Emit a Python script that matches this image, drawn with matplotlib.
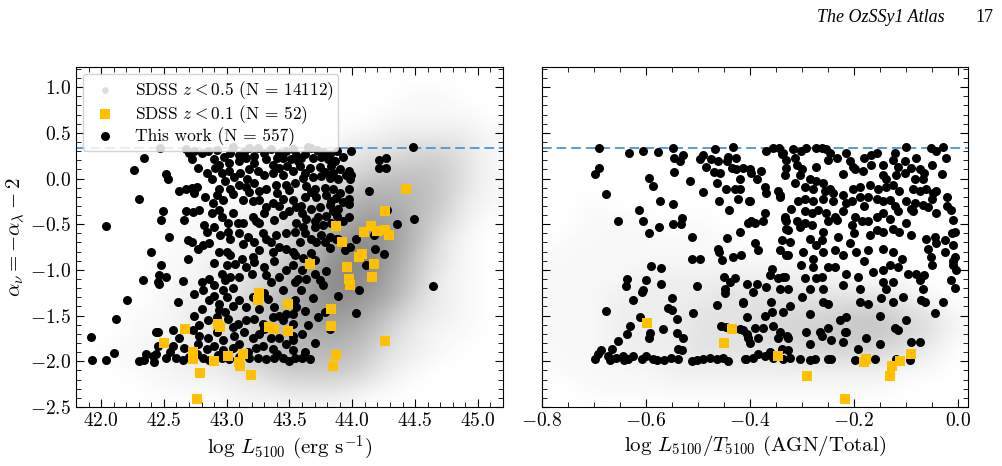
import numpy as np
import matplotlib
matplotlib.use("Agg")
import matplotlib.pyplot as plt
from matplotlib.colors import LinearSegmentedColormap, PowerNorm
from matplotlib.ticker import MultipleLocator

plt.rcParams['font.family'] = 'serif'
plt.rcParams['font.serif'] = ['cmr10']
plt.rcParams['mathtext.fontset'] = 'cm'
plt.rcParams['axes.formatter.use_mathtext'] = True

# ---- black points: this work, left panel (log L5100, alpha_nu)
work_left = [
    (42.47,0.33),(42.68,0.32),(42.70,0.28),(42.74,0.30),(42.80,0.28),(43.05,0.34),(43.03,0.28),(43.10,0.26),
    (43.18,0.33),(43.25,0.33),(43.30,0.28),(43.35,0.32),(43.42,0.28),(43.47,0.30),(43.53,0.32),(43.55,0.26),
    (42.34,0.22),(42.72,0.21),(42.90,0.21),(42.94,0.15),(43.02,0.17),(43.10,0.19),(43.15,0.22),(43.22,0.17),
    (43.31,0.21),(43.37,0.15),(43.45,0.22),(43.51,0.21),(43.57,0.19),
    (42.52,0.05),(42.53,0.00),(42.77,0.12),(42.84,0.06),(42.91,0.11),(42.96,0.06),(43.02,0.08),(43.11,0.06),
    (43.18,0.10),(43.25,0.08),(43.30,0.04),(43.37,0.06),(43.45,0.04),(43.53,0.08),
    (42.62,-0.14),(42.68,-0.11),(42.72,-0.10),(42.76,-0.09),(42.74,-0.16),(42.94,-0.11),(42.99,-0.03),(43.03,-0.11),
    (43.10,-0.07),(43.15,-0.09),(43.22,-0.05),(43.26,-0.14),(43.31,-0.11),(43.39,-0.07),(43.47,-0.07),(43.54,-0.05),
    (42.30,-0.22),(42.89,-0.27),(42.92,-0.18),(42.97,-0.23),(43.13,-0.23),(43.21,-0.25),(43.26,-0.23),(43.31,-0.31),
    (43.37,-0.27),(43.45,-0.22),(43.53,-0.23),(43.55,-0.31),
    (42.49,-0.35),(42.48,-0.45),(42.68,-0.36),(42.66,-0.45),(42.73,-0.37),(42.78,-0.34),(42.88,-0.38),(42.94,-0.34),
    (43.01,-0.49),(43.09,-0.49),(43.13,-0.49),(43.21,-0.42),(43.23,-0.47),(43.26,-0.49),(43.38,-0.45),(43.45,-0.40),
    (43.50,-0.36),(43.55,-0.49),
    (42.54,-0.64),(42.82,-0.51),(42.84,-0.58),(42.90,-0.53),(43.01,-0.58),(43.03,-0.66),(43.10,-0.60),(43.17,-0.64),
    (43.29,-0.60),(43.31,-0.66),(43.39,-0.62),(43.47,-0.60),(43.54,-0.58),(43.58,-0.69),
    (42.40,-0.80),(42.69,-0.67),(42.72,-0.69),(42.77,-0.77),(42.81,-0.73),(42.86,-0.71),(42.94,-0.80),(43.00,-0.80),
    (43.03,-0.84),(43.21,-0.86),(43.26,-0.78),(43.37,-0.80),(43.42,-0.75),(43.47,-0.77),(43.54,-0.84),
    (43.65,0.34),(43.67,0.33),(43.77,0.29),(43.82,0.27),(43.99,0.30),(44.48,0.34),
    (43.59,0.22),(43.69,0.22),(43.75,0.24),(43.81,0.21),(43.86,0.19),(44.21,0.20),(44.27,0.22),
    (43.58,0.14),(43.66,0.12),(43.74,0.13),(43.83,0.14),(43.90,0.10),(43.97,0.08),(43.99,0.04),(44.21,0.11),(44.27,0.11),
    (43.61,0.01),(43.69,0.02),(43.75,0.03),(43.82,0.01),(43.89,-0.01),(43.95,0.04),(43.98,0.00),
    (43.63,-0.08),(43.70,-0.11),(43.78,-0.10),(43.85,-0.12),(43.90,-0.16),(43.97,-0.12),(44.13,-0.14),
    (43.62,-0.20),(43.71,-0.20),(43.79,-0.18),(43.87,-0.21),(43.97,-0.22),
    (43.59,-0.30),(43.67,-0.33),(43.74,-0.31),(43.82,-0.29),(43.89,-0.33),(43.97,-0.28),(44.28,-0.34),
    (43.63,-0.44),(43.73,-0.42),(43.79,-0.41),(43.88,-0.41),(43.97,-0.42),(44.49,-0.44),
    (43.61,-0.53),(43.70,-0.53),(43.77,-0.51),(43.83,-0.49),(43.89,-0.66),(44.03,-0.66),(44.36,-0.50),
    (43.67,-0.66),(43.75,-0.62),(43.82,-0.64),
    (42.33,-1.11),(42.45,-1.13),(42.46,-1.06),(42.48,-0.95),(42.52,-1.08),(42.65,-1.12),(42.69,-0.88),(42.80,-1.13),
    (42.81,-1.22),(42.86,-1.10),(42.90,-1.17),(42.96,-1.04),(42.99,-1.11),(43.03,-1.08),(43.05,-1.20),(42.97,-1.22),
    (43.10,-1.08),(43.07,-0.93),(43.15,-0.97),(43.20,-1.04),(43.22,-0.91),(43.30,-0.97),(43.31,-1.06),(43.35,-1.13),
    (43.42,-1.08),(43.47,-1.00),(43.53,-0.95),(43.57,-1.10),
    (42.61,-1.35),(42.74,-1.26),(42.80,-1.43),(42.86,-1.33),(42.94,-1.37),(42.94,-1.44),(42.99,-1.46),(43.05,-1.39),
    (43.10,-1.33),(43.15,-1.41),(43.21,-1.30),(43.26,-1.43),(43.33,-1.32),(43.38,-1.41),(43.42,-1.50),(43.47,-1.48),(43.55,-1.41),
    (42.85,-1.55),(42.92,-1.52),(43.01,-1.54),(43.09,-1.59),(43.15,-1.55),(43.22,-1.54),(43.29,-1.59),(43.37,-1.52),
    (43.45,-1.55),(43.53,-1.59),
    (42.45,-1.68),(42.57,-1.66),(42.62,-1.74),(42.73,-1.66),(42.78,-1.72),(42.85,-1.74),(42.92,-1.68),(42.97,-1.77),
    (43.06,-1.72),(43.14,-1.68),(43.21,-1.75),(43.26,-1.70),(43.35,-1.75),(43.42,-1.74),(43.53,-1.72),
    (42.36,-1.92),(42.45,-1.83),(42.44,-1.92),(42.57,-1.83),(42.66,-1.85),(42.77,-1.81),(42.84,-1.86),(42.90,-1.83),
    (42.97,-1.88),(43.05,-1.85),(43.10,-1.81),(43.17,-1.90),(43.23,-1.85),(43.29,-1.83),(43.37,-1.86),(43.47,-1.81),(43.53,-1.88),
    (42.34,-1.99),(42.42,-2.01),(42.52,-1.96),(42.60,-1.96),(42.65,-1.99),(42.70,-1.95),(42.81,-1.96),(42.86,-1.99),
    (42.96,-1.96),(43.02,-1.97),(43.18,-1.96),(43.25,-1.96),(43.31,-1.97),(43.38,-1.96),(43.45,-1.96),(43.54,-1.96),
    (41.92,-1.73),(41.93,-1.99),(42.04,-1.99),(42.10,-1.91),(42.12,-1.54),(42.21,-1.33),(42.30,-2.00),(42.41,-1.94),
    (42.44,-1.68),(42.26,0.09),(42.04,-0.52),(42.46,-1.15),
    (43.67,-0.81),(43.70,-0.89),(43.79,-1.01),(43.82,-1.65),(43.89,-1.28),(43.73,-1.52),(43.78,-1.46),(44.05,-1.22),
    (44.03,-1.47),(44.25,-0.83),(44.64,-1.18),(44.18,-0.77),(44.11,-0.95),(44.17,-0.62),(43.87,-0.66),(43.94,-0.78),
    (43.98,-0.75),(43.78,-0.69),(43.71,-0.69),(43.53,-0.80),(43.61,-0.87),(43.54,-1.13),(43.63,-1.10),(43.74,-1.11),
    (43.77,-1.17),(43.59,-1.22),(43.69,-1.31),(43.54,-1.33),(43.53,-1.48),(43.53,-1.77),(43.62,-1.90),(43.70,-1.80),
    (43.60,-1.96),(43.66,-1.97),
    (42.85,0.30),(42.92,0.31),(42.98,0.24),(43.14,0.29),(43.22,0.25),(43.40,0.22),(43.62,0.27),(43.72,0.31),(43.88,0.30),
    (43.93,0.24),(42.88,0.00),(43.06,0.02),(43.16,0.00),(43.42,0.12),(43.48,0.14),(43.62,0.06),(43.78,0.07),(43.85,0.06),
    (42.83,-0.20),(43.05,-0.17),(43.18,-0.15),(43.40,-0.16),(43.50,-0.13),(43.67,-0.15),(43.83,-0.25),(43.93,-0.26),
    (42.96,-0.42),(43.05,-0.38),(43.30,-0.38),(43.42,-0.30),(43.60,-0.38),(43.70,-0.46),(43.85,-0.36),(43.93,-0.47),
    (42.95,-0.62),(43.13,-0.72),(43.22,-0.70),(43.35,-0.70),(43.62,-0.60),(43.82,-0.76),
    (42.90,-0.92),(43.00,-0.95),(43.12,-0.88),(43.38,-0.90),(43.60,-1.00),(43.70,-1.05),
    (42.74,-1.50),(42.90,-1.28),(43.00,-1.30),(43.30,-1.25),(43.45,-1.22),(43.62,-1.45),(43.65,-1.60),
    (42.78,-1.60),(43.05,-1.62),(43.30,-1.65),(43.60,-1.70),
    (42.55,-1.90),(42.76,-1.92),(42.93,-1.93),(43.10,-1.95),(43.40,-1.92),(43.50,-2.00),
]

# ---- black points: this work, right panel (log L5100/T5100, alpha_nu)
work_right = [
    (-0.690,0.33),(-0.690,0.12),(-0.697,0.05),(-0.677,-0.17),(-0.632,0.28),(-0.605,0.30),(-0.576,0.29),(-0.594,0.01),
    (-0.586,-0.08),(-0.614,-0.34),(-0.605,-0.46),(-0.653,-0.46),(-0.573,-0.25),(-0.574,-0.53),(-0.594,-0.60),(-0.547,0.33),
    (-0.545,0.22),(-0.535,0.19),(-0.529,0.26),(-0.545,0.07),(-0.547,-0.28),(-0.531,-0.43),(-0.547,-0.50),(-0.533,-0.50),
    (-0.515,-0.03),(-0.511,-0.64),(-0.496,0.21),(-0.490,0.26),(-0.485,0.13),(-0.474,0.21),(-0.467,0.32),(-0.461,0.19),
    (-0.469,0.07),(-0.458,0.06),(-0.463,-0.05),(-0.490,-0.15),(-0.460,-0.25),(-0.445,-0.12),(-0.442,0.24),(-0.443,0.19),
    (-0.432,0.34),(-0.427,0.22),(-0.434,0.11),(-0.426,0.10),(-0.418,0.00),(-0.429,-0.11),(-0.419,-0.11),(-0.422,-0.22),
    (-0.440,-0.34),(-0.414,0.12),(-0.400,0.10),(-0.401,-0.25),(-0.403,-0.49),(-0.418,-0.59),(-0.443,-0.65),
    (-0.368,0.30),(-0.355,0.33),(-0.344,0.33),(-0.339,0.27),(-0.330,0.12),(-0.400,-0.25),(-0.379,0.08),(-0.387,0.00),
    (-0.397,0.06),(-0.371,-0.09),(-0.368,-0.16),(-0.346,-0.14),(-0.342,-0.20),(-0.371,-0.38),(-0.374,-0.47),(-0.397,-0.47),
    (-0.390,-0.49),(-0.333,-0.42),(-0.330,-0.47),(-0.326,-0.56),(-0.339,-0.67),
    (-0.512,-0.88),(-0.496,-0.88),(-0.461,-0.77),(-0.460,-0.80),(-0.453,-0.89),(-0.432,-0.86),(-0.416,-0.84),(-0.390,-0.71),
    (-0.384,-0.78),(-0.330,-0.84),(-0.591,-0.96),(-0.570,-0.98),(-0.637,-1.10),(-0.638,-1.18),(-0.600,-1.11),(-0.570,-1.15),
    (-0.501,-1.18),(-0.449,-1.08),(-0.429,-1.09),(-0.438,-1.13),(-0.406,-1.15),(-0.387,-1.15),(-0.368,-1.19),(-0.358,-0.99),
    (-0.362,-1.06),(-0.346,-1.09),(-0.336,-1.08),(-0.342,-1.21),(-0.606,-1.22),(-0.448,-1.21),
    (-0.336,0.28),(-0.317,0.32),(-0.301,0.30),(-0.291,0.33),(-0.272,0.33),(-0.262,0.33),(-0.253,0.32),(-0.246,0.28),
    (-0.214,0.28),(-0.166,0.26),(-0.156,0.28),(-0.099,0.34),(-0.051,0.33),(-0.041,0.30),(-0.028,0.34),(-0.022,0.22),
    (-0.330,0.20),(-0.313,0.22),(-0.310,0.15),(-0.272,0.13),(-0.233,0.22),(-0.208,0.19),(-0.201,0.13),(-0.182,0.08),
    (-0.166,0.15),(-0.144,0.15),(-0.124,0.20),(-0.115,0.13),(-0.102,0.19),(-0.089,0.11),(-0.073,0.10),(-0.064,0.06),
    (-0.333,0.04),(-0.304,0.04),(-0.285,-0.01),(-0.198,0.10),(-0.144,0.04),(-0.137,0.00),(-0.118,0.04),(-0.102,0.06),
    (-0.083,0.00),(-0.067,0.00),
    (-0.313,-0.05),(-0.294,-0.09),(-0.278,-0.11),(-0.272,-0.03),(-0.256,-0.14),(-0.246,-0.12),(-0.240,-0.16),(-0.201,-0.11),
    (-0.188,-0.09),(-0.169,-0.07),(-0.153,-0.11),(-0.137,-0.09),(-0.124,-0.07),(-0.112,-0.14),(-0.086,-0.11),(-0.073,-0.14),
    (-0.060,-0.12),(-0.047,-0.16),(-0.041,-0.14),
    (-0.342,-0.18),(-0.307,-0.25),(-0.294,-0.22),(-0.278,-0.25),(-0.259,-0.22),(-0.240,-0.25),(-0.214,-0.27),(-0.204,-0.25),
    (-0.188,-0.20),(-0.172,-0.20),(-0.156,-0.22),(-0.144,-0.25),(-0.131,-0.23),(-0.099,-0.25),(-0.083,-0.27),(-0.067,-0.29),
    (-0.089,-0.33),(-0.057,-0.31),
    (-0.320,-0.33),(-0.333,-0.44),(-0.310,-0.47),(-0.294,-0.36),(-0.281,-0.38),(-0.269,-0.34),(-0.253,-0.38),(-0.237,-0.42),
    (-0.220,-0.36),(-0.198,-0.42),(-0.185,-0.47),(-0.172,-0.47),(-0.156,-0.42),(-0.144,-0.38),(-0.131,-0.44),(-0.115,-0.36),
    (-0.099,-0.49),(-0.086,-0.36),(-0.041,-0.38),(-0.012,-0.34),(-0.009,-0.45),
    (-0.330,-0.55),(-0.304,-0.53),(-0.294,-0.49),(-0.281,-0.51),(-0.249,-0.47),(-0.233,-0.45),(-0.204,-0.51),(-0.169,-0.62),
    (-0.156,-0.56),(-0.144,-0.58),(-0.124,-0.55),(-0.112,-0.58),(-0.089,-0.62),(-0.060,-0.66),(-0.044,-0.64),(-0.025,-0.67),
    (-0.006,-0.58),(-0.323,-0.69),(-0.285,-0.66),(-0.262,-0.67),(-0.230,-0.64),
    (-0.342,-0.78),(-0.326,-0.84),(-0.297,-0.80),(-0.272,-0.73),(-0.278,-0.88),(-0.259,-0.80),(-0.237,-0.78),(-0.220,-0.84),
    (-0.208,-0.71),(-0.195,-0.80),(-0.172,-0.78),(-0.144,-0.77),(-0.124,-0.80),(-0.108,-0.88),(-0.057,-0.77),(-0.041,-0.71),
    (-0.051,-0.86),(-0.025,-0.80),(-0.009,-0.73),(-0.006,-0.86),
    (-0.333,-1.08),(-0.301,-0.95),(-0.278,-0.97),(-0.262,-1.08),(-0.249,-0.97),(-0.237,-0.97),(-0.214,-1.04),(-0.192,-1.08),
    (-0.163,-1.02),(-0.144,-1.00),(-0.131,-0.95),(-0.115,-0.97),(-0.096,-1.04),(-0.080,-1.04),(-0.064,-1.06),(-0.009,-0.95),
    (-0.003,-1.00),
    (-0.326,-1.21),(-0.294,-1.09),(-0.285,-1.21),(-0.272,-1.09),(-0.259,-1.21),(-0.220,-1.17),(-0.188,-1.21),(-0.144,-1.13),
    (-0.137,-1.21),(-0.124,-1.13),(-0.073,-1.11),(-0.067,-1.21),(-0.012,-1.11),
    (-0.607,-1.24),(-0.624,-1.33),(-0.549,-1.31),(-0.464,-1.38),(-0.448,-1.25),(-0.413,-1.36),(-0.677,-1.45),(-0.557,-1.42),
    (-0.549,-1.44),(-0.510,-1.47),(-0.611,-1.52),(-0.541,-1.54),(-0.631,-1.61),(-0.567,-1.65),(-0.637,-1.70),(-0.592,-1.69),
    (-0.594,-1.74),(-0.541,-1.69),(-0.529,-1.75),(-0.456,-1.61),(-0.446,-1.62),(-0.419,-1.65),(-0.406,-1.70),(-0.653,-1.78),
    (-0.687,-1.88),(-0.692,-1.92),(-0.666,-1.87),(-0.672,-1.94),(-0.698,-1.98),(-0.670,-1.99),(-0.658,-1.96),(-0.644,-1.94),
    (-0.642,-1.99),(-0.634,-1.97),(-0.624,-1.94),(-0.608,-1.97),(-0.599,-1.94),(-0.586,-1.97),(-0.579,-1.99),(-0.565,-1.99),
    (-0.551,-1.96),(-0.538,-1.97),(-0.531,-1.88),(-0.538,-1.86),(-0.512,-2.00),(-0.502,-1.99),(-0.490,-1.97),(-0.477,-1.96),
    (-0.464,-1.97),(-0.451,-1.96),(-0.442,-2.00),(-0.408,-1.97),
    (-0.413,-1.35),(-0.394,-1.24),(-0.406,-1.52),(-0.371,-1.50),(-0.358,-1.46),(-0.336,-1.46),(-0.323,-1.39),(-0.285,-1.48),
    (-0.259,-1.35),(-0.249,-1.37),(-0.227,-1.55),(-0.214,-1.52),(-0.188,-1.35),(-0.172,-1.37),(-0.147,-1.31),(-0.124,-1.35),
    (-0.105,-1.30),(-0.070,-1.33),(-0.063,-1.35),(-0.044,-1.47),(-0.028,-1.35),(-0.413,-1.66),(-0.390,-1.64),(-0.374,-1.64),
    (-0.355,-1.61),(-0.342,-1.68),(-0.329,-1.72),(-0.291,-1.68),(-0.265,-1.68),(-0.249,-1.64),(-0.221,-1.79),(-0.214,-1.68),
    (-0.176,-1.75),(-0.121,-1.64),(-0.115,-1.66),(-0.089,-1.79),(-0.073,-1.79),(-0.403,-1.75),(-0.384,-1.75),(-0.345,-1.75),
    (-0.326,-1.75),(-0.285,-1.81),(-0.262,-1.72),(-0.243,-1.77),(-0.192,-1.86),(-0.410,-1.97),(-0.394,-1.96),(-0.384,-1.92),
    (-0.371,-1.94),(-0.362,-1.90),(-0.355,-1.96),(-0.336,-1.97),(-0.323,-1.96),(-0.304,-1.97),(-0.285,-1.99),(-0.275,-1.98),
    (-0.249,-1.97),(-0.243,-1.98),(-0.198,-1.99),(-0.118,-1.97),(-0.092,-1.99),(-0.339,-1.86),(-0.326,-1.88),(-0.217,-1.68),
    (-0.150,-1.81),
    (-0.300,0.10),(-0.220,0.05),(-0.250,0.20),(-0.180,0.22),(-0.120,0.28),(-0.080,0.22),(-0.050,0.15),(-0.030,0.05),
    (-0.260,-0.05),(-0.220,-0.18),(-0.180,-0.30),(-0.120,-0.30),(-0.050,-0.22),(-0.020,-0.20),(-0.200,-0.60),(-0.260,-0.58),
    (-0.180,-0.90),(-0.050,-0.95),(-0.300,-1.30),(-0.150,-1.50),(-0.100,-1.55),(-0.360,-1.35),(-0.400,-1.80),(-0.160,-1.98),
    (-0.005,-1.20),(-0.008,-0.90),(-0.010,-0.60),(-0.020,-0.30),
]

# ---- yellow squares: SDSS z < 0.1
sdss01_left = [
    (42.50,-1.80),(42.67,-1.65),(42.73,-1.90),(42.73,-1.97),(42.93,-1.59),(42.95,-1.63),(42.90,-2.00),(42.79,-2.13),
    (42.76,-2.41),(43.01,-1.94),(43.10,-2.01),(43.11,-2.05),(43.13,-1.92),(43.19,-2.15),(43.26,-1.25),(43.25,-1.33),
    (43.34,-1.62),(43.38,-1.65),(43.49,-1.37),(43.49,-1.67),(43.66,-0.93),(43.92,-0.70),(43.96,-0.97),(44.05,-0.86),
    (44.08,-0.83),(43.97,-1.10),(43.98,-1.16),(44.16,-1.08),(44.17,-0.93),(43.83,-1.43),(43.83,-1.61),(43.87,-1.93),
    (43.85,-2.05),(44.26,-1.78),(44.43,-0.11),(44.26,-0.35),(43.87,-0.52),(44.15,-0.52),(44.09,-0.59),(44.20,-0.57),
    (44.26,-0.56),(44.29,-0.62),
]
sdss01_right = [
    (-0.597,-1.58),(-0.435,-1.65),(-0.449,-1.80),(-0.345,-1.94),(-0.289,-2.16),(-0.217,-2.41),(-0.181,-2.01),(-0.176,-1.98),
    (-0.131,-2.16),(-0.126,-2.05),(-0.110,-2.00),(-0.089,-1.92),
]

# ---- SDSS z < 0.5 cloud, read as a coarse density grid (rows from top y=1.1 to bottom y=-2.5, step 0.2)
cloud_y = np.arange(1.1, -2.51, -0.2)
cloud_x_left = np.arange(41.9, 45.11, 0.2)
cloud_left = [
    [0,0,0,0,0,0,0,0,0,0,0,0,0,0,0,0,0],
    [0,0,0,0,0,0,0,0,0,0,0,0,0,1,1,0,0],
    [0,0,0,0,0,0,0,0,0,0,0,0,1,1,1,1,0],
    [0,0,0,0,0,0,0,0,0,0,1,1,2,2,2,2,1],
    [0,0,0,0,0,0,0,0,1,1,2,3,3,4,4,3,1],
    [0,0,0,0,0,0,0,1,1,2,3,4,5,5,5,3,1],
    [0,0,0,0,0,0,1,1,2,3,4,6,6,6,5,3,1],
    [0,0,0,0,0,1,1,2,3,4,6,7,7,6,5,2,1],
    [0,0,0,0,1,1,2,2,4,5,7,8,8,6,4,2,0],
    [0,0,0,0,1,1,2,3,4,6,8,9,8,6,3,1,0],
    [0,0,0,1,1,2,2,3,5,7,9,9,8,5,3,1,0],
    [0,0,0,1,1,2,3,4,6,8,9,9,7,5,2,1,0],
    [0,0,0,1,2,2,3,5,6,8,9,8,7,4,2,1,0],
    [0,0,1,1,2,3,4,5,7,8,8,7,5,3,2,1,0],
    [0,0,1,1,2,3,4,5,6,7,7,6,4,2,1,1,0],
    [0,1,1,2,2,3,4,5,6,6,6,5,3,2,1,0,0],
    [0,0,1,1,2,2,3,4,5,5,5,4,2,1,0,0,0],
    [0,0,0,1,1,1,2,2,3,3,3,2,1,0,0,0,0],
    [0,0,0,0,0,0,1,1,1,1,1,0,0,0,0,0,0],
]
cloud_x_right = np.arange(-0.8, 0.001, 0.05)
cloud_right = [
    [0,0,0,0,0,0,0,0,0,0,0,0,0,0,0,0,0],
    [0,0,0,0,0,0,0,0,0,0,0,0,0,0,0,0,0],
    [0,0,0,0,0,0,0,0,0,0,0,0,0,0,0,0,0],
    [0,0,0,0,0,0,0,0,0,0,0,0,0,0,0,0,0],
    [0,0,0,0,0,0,0,0,0,0,0,0,0,0,0,0,0],
    [0,0,0,0,0,0,0,0,0,0,0,0,0,0,0,0,0],
    [0,0,0,0,0,0,0,0,0,0,0,0,0,0,0,0,0],
    [0,0,1,0,0,0,0,0,0,0,0,0,0,0,0,0,0],
    [0,0,1,1,1,0,1,0,0,0,0,0,0,0,0,0,0],
    [0,1,1,1,1,1,1,1,0,0,0,0,0,0,0,0,0],
    [1,1,1,1,1,1,1,1,1,1,1,0,0,0,0,0,0],
    [1,1,1,1,2,2,2,2,2,2,2,2,1,1,1,0,0],
    [1,1,1,2,2,2,2,3,3,3,3,3,3,3,2,1,0],
    [1,1,1,2,2,2,3,3,3,4,4,4,5,5,4,3,1],
    [1,1,1,2,2,2,3,3,3,4,4,5,5,5,4,3,1],
    [1,1,1,2,2,2,3,3,3,3,4,4,4,4,3,2,0],
    [0,1,1,1,1,2,2,2,2,2,2,2,2,2,1,1,0],
    [0,0,1,1,1,1,1,1,1,1,1,1,1,1,0,0,0],
    [0,0,0,0,0,0,0,0,0,0,0,0,0,0,0,0,0],
]

alpha_cut = 0.33
yellow = '#FFC000'
dash_blue = '#5B9BD5'
cloud_cmap = LinearSegmentedColormap.from_list('cloud', ['#ffffff', '#8a8a8a'])

fig = plt.figure(figsize=(10.02, 4.66), dpi=100)
ax1 = fig.add_axes([0.0758, 0.1266, 0.4262, 0.7296])
ax2 = fig.add_axes([0.5409, 0.1266, 0.4252, 0.7296], sharey=ax1)


def draw_cloud(ax, xs, grid):
    dx = xs[1] - xs[0]
    ext = [xs[0] - dx / 2, xs[-1] + dx / 2, cloud_y[-1] - 0.1, cloud_y[0] + 0.1]
    ax.imshow(np.array(grid, dtype=float), extent=ext, origin='upper', aspect='auto',
              cmap=cloud_cmap, norm=PowerNorm(1.3, vmin=0, vmax=9, clip=True),
              interpolation='bicubic', zorder=0)


draw_cloud(ax1, cloud_x_left, cloud_left)
draw_cloud(ax2, cloud_x_right, cloud_right)

for ax, work, sq in [(ax1, work_left, sdss01_left), (ax2, work_right, sdss01_right)]:
    ax.axhline(alpha_cut, ls=(0, (5, 2.5)), color=dash_blue, lw=1.4, zorder=1)
    wx = [p[0] for p in work]
    wy = [p[1] for p in work]
    ax.scatter(wx, wy, s=42, c='black', marker='o', linewidths=0, zorder=3)
    sx = [p[0] for p in sq]
    sy = [p[1] for p in sq]
    ax.scatter(sx, sy, s=44, c=yellow, marker='s', linewidths=0, zorder=4)
    ax.tick_params(which='both', direction='in', top=True, right=True, labelsize=14)
    ax.tick_params(which='major', length=6)
    ax.tick_params(which='minor', length=3.5)
    ax.yaxis.set_major_locator(MultipleLocator(0.5))
    ax.yaxis.set_minor_locator(MultipleLocator(0.1))

ax1.set_xlim(41.8, 45.2)
ax1.set_ylim(-2.5, 1.22)
ax1.xaxis.set_major_locator(MultipleLocator(0.5))
ax1.xaxis.set_minor_locator(MultipleLocator(0.1))
ax2.set_xlim(-0.8, 0.02)
ax2.xaxis.set_major_locator(MultipleLocator(0.2))
ax2.xaxis.set_minor_locator(MultipleLocator(0.05))
plt.setp(ax2.get_yticklabels(), visible=False)

ax1.set_xlabel(r'log $L_{5100}$ (erg s$^{-1}$)', fontsize=15, labelpad=3)
ax2.set_xlabel(r'log $L_{5100}/T_{5100}$ (AGN/Total)', fontsize=15, labelpad=3)
ax1.set_ylabel(r'$\alpha_\nu = -\alpha_\lambda - 2$', fontsize=15, labelpad=2)

h_gray = ax1.scatter([], [], s=22, c='#dcdcdc', marker='o', linewidths=0)
h_yel = ax1.scatter([], [], s=44, c=yellow, marker='s', linewidths=0)
h_blk = ax1.scatter([], [], s=42, c='black', marker='o', linewidths=0)
ax1.legend([h_gray, h_yel, h_blk],
           [r'SDSS $z < 0.5$ (N = 14112)', r'SDSS $z < 0.1$ (N = 52)', r'This work (N = 557)'],
           loc='upper left', fontsize=12.5, frameon=True, framealpha=0.85, edgecolor='#cccccc',
           handletextpad=0.7, borderpad=0.28, labelspacing=0.08, borderaxespad=0.4)

fig.text(0.943, 0.962, 'The OzSSy1 Atlas', ha='right', va='center',
         family='Liberation Serif', style='italic', fontsize=13)
fig.text(0.982, 0.962, '17', ha='center', va='center', family='Liberation Serif', fontsize=13)

fig.savefig('out.png', dpi=100)
